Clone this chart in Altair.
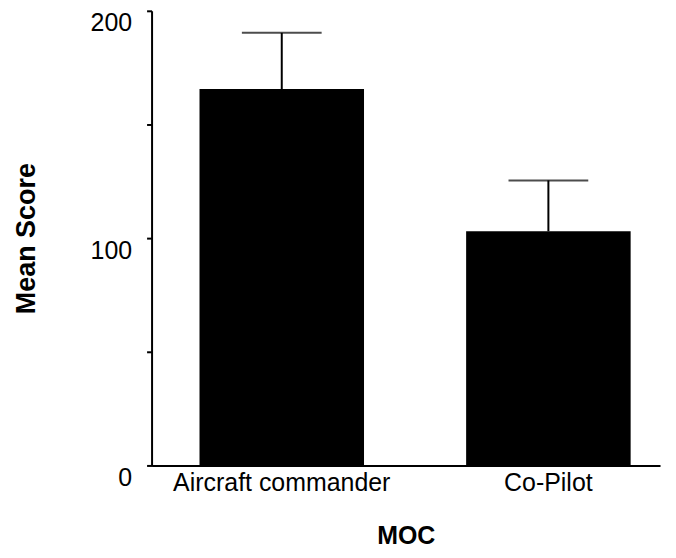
import altair as alt
import pandas as pd

categories = ["Aircraft commander", "Co-Pilot"]
means = [165.6, 103.0]
upper = [190.3, 125.4]

df = pd.DataFrame({"MOC": categories, "mean": means, "upper": upper})

FONT = "Liberation Sans"

x = alt.X(
    "MOC:N",
    sort=categories,
    title="MOC",
    scale=alt.Scale(paddingInner=0.383, paddingOuter=0.145, align=0.62),
    axis=alt.Axis(
        labelAngle=0,
        ticks=False,
        labelPadding=5,
        labelFontSize=25,
        labelFont=FONT,
        labelColor="black",
        labelLimit=0,
        domainColor="black",
        domainWidth=2,
        titleFont=FONT,
        titleFontSize=25,
        titleFontWeight="bold",
        titleColor="black",
        titlePadding=28,
    ),
)

y_axis = alt.Axis(
    values=[0, 50, 100, 150, 200],
    labelExpr="datum.value % 100 == 0 ? datum.label : ''",
    grid=False,
    tickSize=5,
    tickWidth=2,
    tickColor="black",
    domainColor="black",
    domainWidth=2,
    labelFont=FONT,
    labelFontSize=25,
    labelColor="black",
    labelBaseline="top",
    labelPadding=15,
    titleFont=FONT,
    titleFontSize=27,
    titleFontWeight="bold",
    titleColor="black",
    titlePadding=50,
)

base = alt.Chart(df)

bars = base.mark_bar(color="black").encode(
    x=x,
    y=alt.Y("mean:Q", title="Mean Score",
            scale=alt.Scale(domain=[0, 200], nice=False), axis=y_axis),
)

rule = base.mark_rule(color="black", strokeWidth=2).encode(
    x=alt.X("MOC:N", sort=categories),
    y="mean:Q",
    y2="upper:Q",
)

cap = base.mark_tick(color="black", thickness=2, size=80, orient="horizontal").encode(
    x=alt.X("MOC:N", sort=categories),
    y="upper:Q",
)

chart = (
    alt.layer(bars, rule, cap)
    .properties(
        width=510,
        height=456,
        background="white",
        autosize=alt.AutoSizeParams(type="none"),
        padding={"left": 144, "top": 2, "right": 8, "bottom": 84},
    )
    .configure_view(stroke="transparent", strokeWidth=0)
)

chart.save("out.html", embed_options={"renderer": "svg", "actions": False})
